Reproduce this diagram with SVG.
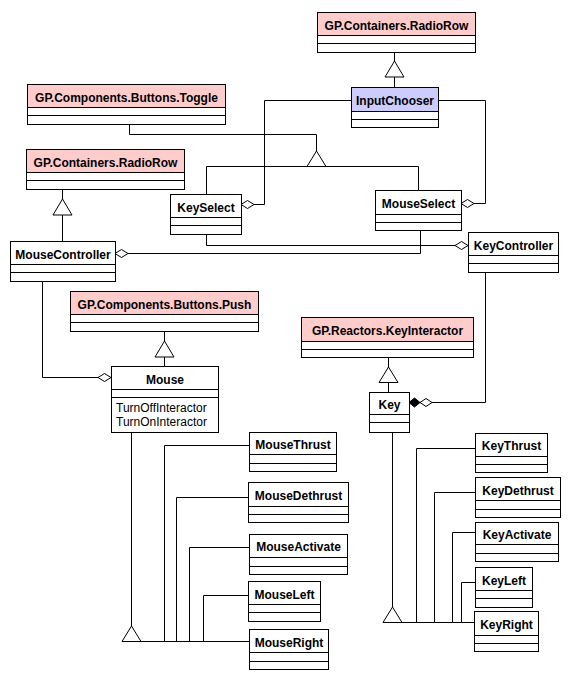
<svg xmlns="http://www.w3.org/2000/svg" width="572" height="676" viewBox="0 0 572 676">
<style>
.bx{fill:#fff;stroke:#000;stroke-width:1}
.pk{fill:#ffcccc}
.bl{fill:#ccccff}
.sp{stroke:#000;stroke-width:1}
.nm{font-family:"Liberation Sans",Arial,sans-serif;font-size:12px;font-weight:bold;text-anchor:middle;fill:#000}
.op{font-family:"Liberation Sans",Arial,sans-serif;font-size:12px;fill:#000}
.ln{fill:none;stroke:#000;stroke-width:1}
.tri{fill:#fff;stroke:#000;stroke-width:1}
.dh{fill:#fff;stroke:#000;stroke-width:1}
.df{fill:#000;stroke:#000;stroke-width:1}
</style>
<rect width="572" height="676" fill="#fff"/>
<g id="connectors">
  <line class="ln" x1="394.5" y1="52" x2="394.5" y2="87"/>
  <polygon class="tri" points="394.5,61 385,77 404,77"/>
  <path class="ln" d="M129.5,124 V134.5 H316.5 V151"/>
  <polygon class="tri" points="316.5,151 307,166.5 326,166.5"/>
  <path class="ln" d="M206.5,194 V166.5 H418.5 V190"/>
  <line class="ln" x1="62.5" y1="189" x2="62.5" y2="241"/>
  <polygon class="tri" points="62.5,199 53,215 72,215"/>
  <path class="ln" d="M351,100.5 H264.5 V204.5 H254"/>
  <polygon class="dh" points="241,204.5 247.5,200.5 254,204.5 247.5,208.5"/>
  <path class="ln" d="M438,100.5 H485.5 V203.5 H474"/>
  <polygon class="dh" points="461,203.5 467.5,199.5 474,203.5 467.5,207.5"/>
  <path class="ln" d="M206.5,234 V245.5 H455"/>
  <polygon class="dh" points="468,245.5 461.5,241.5 455,245.5 461.5,249.5"/>
  <path class="ln" d="M420.5,230 V253.5 H128"/>
  <polygon class="dh" points="115,253.5 121.5,249.5 128,253.5 121.5,257.5"/>
  <path class="ln" d="M42.5,281 V377.5 H98"/>
  <polygon class="dh" points="111,377.5 104.5,373.5 98,377.5 104.5,381.5"/>
  <line class="ln" x1="164.5" y1="331" x2="164.5" y2="366"/>
  <polygon class="tri" points="164.5,341 155,357 174,357"/>
  <line class="ln" x1="388.5" y1="357" x2="388.5" y2="392"/>
  <polygon class="tri" points="388.5,367 379,382.5 398,382.5"/>
  <path class="ln" d="M485.5,272 V402.5 H432"/>
  <polygon class="dh" points="432,402.5 426,398.5 420,402.5 426,406.5"/>
  <polygon class="df" points="420,402.5 414.5,398 409,402.5 414.5,407"/>
  <line class="ln" x1="131.5" y1="432" x2="131.5" y2="626"/>
  <polygon class="tri" points="131.5,626 122,641.5 141,641.5"/>
  <path class="ln" d="M122,641.5 H249"/>
  <path class="ln" d="M249,445.5 H164.5 V641.5"/>
  <path class="ln" d="M248,497.5 H176.5 V641.5"/>
  <path class="ln" d="M249,547.5 H189.5 V641.5"/>
  <path class="ln" d="M248,595.5 H203.5 V641.5"/>
  <line class="ln" x1="392.5" y1="432" x2="392.5" y2="607"/>
  <polygon class="tri" points="392.5,607 383,622.5 402,622.5"/>
  <path class="ln" d="M383,622.5 H474"/>
  <path class="ln" d="M475,448.5 H416.5 V622.5"/>
  <path class="ln" d="M475,492.5 H434.5 V622.5"/>
  <path class="ln" d="M475,532.5 H452.5 V622.5"/>
  <path class="ln" d="M475,582.5 H461.5 V622.5"/>
</g>
<g id="RadioRowTop">
  <rect class="bx" x="317.5" y="12.5" width="158" height="40"/>
  <rect class="pk" x="318" y="13" width="157" height="22"/>
  <line class="sp" x1="317.5" y1="35.5" x2="475.5" y2="35.5"/>
  <line class="sp" x1="317.5" y1="43.5" x2="475.5" y2="43.5"/>
  <text class="nm" x="396.5" y="30">GP.Containers.RadioRow</text>
</g>
<g id="InputChooser">
  <rect class="bx" x="351.5" y="87.5" width="87" height="40"/>
  <rect class="bl" x="352" y="88" width="86" height="23"/>
  <line class="sp" x1="351.5" y1="111.5" x2="438.5" y2="111.5"/>
  <line class="sp" x1="351.5" y1="119.5" x2="438.5" y2="119.5"/>
  <text class="nm" x="395" y="105">InputChooser</text>
</g>
<g id="Toggle">
  <rect class="bx" x="27.5" y="84.5" width="198" height="40"/>
  <rect class="pk" x="28" y="85" width="197" height="22"/>
  <line class="sp" x1="27.5" y1="107.5" x2="225.5" y2="107.5"/>
  <line class="sp" x1="27.5" y1="115.5" x2="225.5" y2="115.5"/>
  <text class="nm" x="126.5" y="102">GP.Components.Buttons.Toggle</text>
</g>
<g id="RadioRowLeft">
  <rect class="bx" x="26.5" y="149.5" width="158" height="40"/>
  <rect class="pk" x="27" y="150" width="157" height="22"/>
  <line class="sp" x1="26.5" y1="172.5" x2="184.5" y2="172.5"/>
  <line class="sp" x1="26.5" y1="180.5" x2="184.5" y2="180.5"/>
  <text class="nm" x="105.5" y="167">GP.Containers.RadioRow</text>
</g>
<g id="KeySelect">
  <rect class="bx" x="170.5" y="194.5" width="71" height="40"/>
  <line class="sp" x1="170.5" y1="217.5" x2="241.5" y2="217.5"/>
  <line class="sp" x1="170.5" y1="225.5" x2="241.5" y2="225.5"/>
  <text class="nm" x="206" y="212">KeySelect</text>
</g>
<g id="MouseSelect">
  <rect class="bx" x="375.5" y="190.5" width="86" height="40"/>
  <line class="sp" x1="375.5" y1="214.5" x2="461.5" y2="214.5"/>
  <line class="sp" x1="375.5" y1="222.5" x2="461.5" y2="222.5"/>
  <text class="nm" x="418.5" y="208">MouseSelect</text>
</g>
<g id="MouseController">
  <rect class="bx" x="10.5" y="241.5" width="105" height="40"/>
  <line class="sp" x1="10.5" y1="264.5" x2="115.5" y2="264.5"/>
  <line class="sp" x1="10.5" y1="272.5" x2="115.5" y2="272.5"/>
  <text class="nm" x="63" y="259">MouseController</text>
</g>
<g id="KeyController">
  <rect class="bx" x="468.5" y="232.5" width="90" height="40"/>
  <line class="sp" x1="468.5" y1="255.5" x2="558.5" y2="255.5"/>
  <line class="sp" x1="468.5" y1="263.5" x2="558.5" y2="263.5"/>
  <text class="nm" x="513.5" y="250">KeyController</text>
</g>
<g id="Push">
  <rect class="bx" x="70.5" y="291.5" width="188" height="40"/>
  <rect class="pk" x="71" y="292" width="187" height="22"/>
  <line class="sp" x1="70.5" y1="314.5" x2="258.5" y2="314.5"/>
  <line class="sp" x1="70.5" y1="322.5" x2="258.5" y2="322.5"/>
  <text class="nm" x="164.5" y="309">GP.Components.Buttons.Push</text>
</g>
<g id="KeyInteractor">
  <rect class="bx" x="301.5" y="317.5" width="172" height="40"/>
  <rect class="pk" x="302" y="318" width="171" height="23"/>
  <line class="sp" x1="301.5" y1="341.5" x2="473.5" y2="341.5"/>
  <line class="sp" x1="301.5" y1="349.5" x2="473.5" y2="349.5"/>
  <text class="nm" x="387.5" y="335">GP.Reactors.KeyInteractor</text>
</g>
<g id="Mouse">
  <rect class="bx" x="111.5" y="366.5" width="107" height="66"/>
  <line class="sp" x1="111.5" y1="389.5" x2="218.5" y2="389.5"/>
  <line class="sp" x1="111.5" y1="397.5" x2="218.5" y2="397.5"/>
  <text class="nm" x="165" y="384">Mouse</text>
  <text class="op" x="116" y="412">TurnOffInteractor</text>
  <text class="op" x="116" y="426">TurnOnInteractor</text>
</g>
<g id="Key">
  <rect class="bx" x="369.5" y="392.5" width="40" height="40"/>
  <line class="sp" x1="369.5" y1="414.5" x2="409.5" y2="414.5"/>
  <line class="sp" x1="369.5" y1="422.5" x2="409.5" y2="422.5"/>
  <text class="nm" x="389.5" y="409">Key</text>
</g>
<g id="MouseThrust">
  <rect class="bx" x="249.5" y="432.5" width="87" height="39"/>
  <line class="sp" x1="249.5" y1="454.5" x2="336.5" y2="454.5"/>
  <line class="sp" x1="249.5" y1="463.5" x2="336.5" y2="463.5"/>
  <text class="nm" x="293" y="449">MouseThrust</text>
</g>
<g id="MouseDethrust">
  <rect class="bx" x="248.5" y="482.5" width="100" height="40"/>
  <line class="sp" x1="248.5" y1="506.5" x2="348.5" y2="506.5"/>
  <line class="sp" x1="248.5" y1="514.5" x2="348.5" y2="514.5"/>
  <text class="nm" x="298.5" y="500">MouseDethrust</text>
</g>
<g id="MouseActivate">
  <rect class="bx" x="249.5" y="534.5" width="98" height="40"/>
  <line class="sp" x1="249.5" y1="557.5" x2="347.5" y2="557.5"/>
  <line class="sp" x1="249.5" y1="566.5" x2="347.5" y2="566.5"/>
  <text class="nm" x="298.5" y="551">MouseActivate</text>
</g>
<g id="MouseLeft">
  <rect class="bx" x="248.5" y="581.5" width="72" height="40"/>
  <line class="sp" x1="248.5" y1="604.5" x2="320.5" y2="604.5"/>
  <line class="sp" x1="248.5" y1="612.5" x2="320.5" y2="612.5"/>
  <text class="nm" x="284.5" y="599">MouseLeft</text>
</g>
<g id="MouseRight">
  <rect class="bx" x="249.5" y="629.5" width="79" height="40"/>
  <line class="sp" x1="249.5" y1="652.5" x2="328.5" y2="652.5"/>
  <line class="sp" x1="249.5" y1="661.5" x2="328.5" y2="661.5"/>
  <text class="nm" x="289" y="647">MouseRight</text>
</g>
<g id="KeyThrust">
  <rect class="bx" x="475.5" y="433.5" width="72" height="39"/>
  <line class="sp" x1="475.5" y1="456.5" x2="547.5" y2="456.5"/>
  <line class="sp" x1="475.5" y1="464.5" x2="547.5" y2="464.5"/>
  <text class="nm" x="511.5" y="450">KeyThrust</text>
</g>
<g id="KeyDethrust">
  <rect class="bx" x="475.5" y="477.5" width="85" height="40"/>
  <line class="sp" x1="475.5" y1="500.5" x2="560.5" y2="500.5"/>
  <line class="sp" x1="475.5" y1="509.5" x2="560.5" y2="509.5"/>
  <text class="nm" x="518" y="495">KeyDethrust</text>
</g>
<g id="KeyActivate">
  <rect class="bx" x="475.5" y="522.5" width="83" height="39"/>
  <line class="sp" x1="475.5" y1="544.5" x2="558.5" y2="544.5"/>
  <line class="sp" x1="475.5" y1="553.5" x2="558.5" y2="553.5"/>
  <text class="nm" x="517" y="539">KeyActivate</text>
</g>
<g id="KeyLeft">
  <rect class="bx" x="475.5" y="567.5" width="57" height="40"/>
  <line class="sp" x1="475.5" y1="590.5" x2="532.5" y2="590.5"/>
  <line class="sp" x1="475.5" y1="598.5" x2="532.5" y2="598.5"/>
  <text class="nm" x="504" y="585">KeyLeft</text>
</g>
<g id="KeyRight">
  <rect class="bx" x="474.5" y="611.5" width="64" height="40"/>
  <line class="sp" x1="474.5" y1="635.5" x2="538.5" y2="635.5"/>
  <line class="sp" x1="474.5" y1="643.5" x2="538.5" y2="643.5"/>
  <text class="nm" x="506.5" y="629">KeyRight</text>
</g>
</svg>
